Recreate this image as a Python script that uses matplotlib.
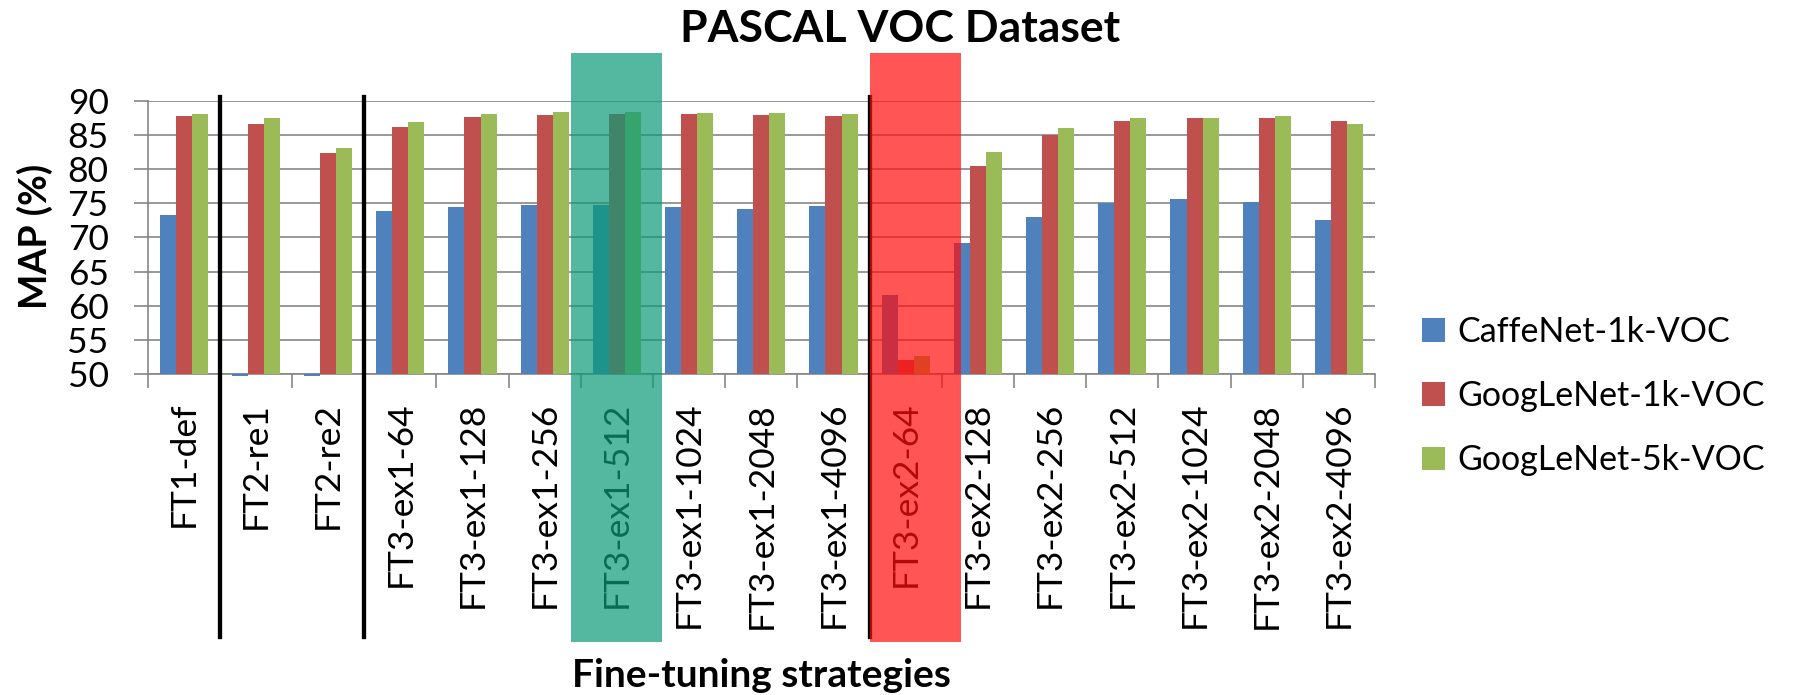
import matplotlib
matplotlib.use("Agg")
import matplotlib.pyplot as plt
import matplotlib.transforms as mtransforms
from matplotlib.patches import Rectangle, Patch
import numpy as np

plt.rcParams['font.family'] = ['Lato', 'DejaVu Sans']

# Chart data
categories = ['FT1-def', 'FT2-re1', 'FT2-re2', 'FT3-ex1-64', 'FT3-ex1-128',
              'FT3-ex1-256', 'FT3-ex1-512', 'FT3-ex1-1024', 'FT3-ex1-2048',
              'FT3-ex1-4096', 'FT3-ex2-64', 'FT3-ex2-128', 'FT3-ex2-256',
              'FT3-ex2-512', 'FT3-ex2-1024', 'FT3-ex2-2048', 'FT3-ex2-4096']
caffenet_1k = [73.3, 49.7, 49.7, 73.9, 74.5, 74.8, 74.8, 74.4, 74.2, 74.6,
               61.5, 69.2, 73.0, 75.0, 75.6, 75.2, 72.6]
googlenet_1k = [87.7, 86.6, 82.3, 86.1, 87.6, 87.95, 88.1, 88.0, 87.95, 87.8,
                52.05, 80.4, 85.0, 87.0, 87.4, 87.5, 87.0]
googlenet_5k = [88.0, 87.4, 83.1, 86.9, 88.1, 88.3, 88.3, 88.2, 88.2, 88.1,
                52.7, 82.5, 86.0, 87.4, 87.5, 87.8, 86.6]
series_names = ['CaffeNet-1k-VOC', 'GoogLeNet-1k-VOC', 'GoogLeNet-5k-VOC']
y_ticks = [50, 55, 60, 65, 70, 75, 80, 85, 90]
separators = [0.5, 2.5, 9.5]

colors = ['#4F81BD', '#C0504D', '#9BBB59']
grid_gray = '#868686'
base = 50

fig = plt.figure(figsize=(18.08, 6.95), dpi=100)
ax = fig.add_axes([0.08164, 0.46187, 0.67888, 0.39324])

x = np.arange(len(categories))
w = 0.222
for i, (vals, c) in enumerate(zip([caffenet_1k, googlenet_1k, googlenet_5k], colors)):
    heights = np.array(vals) - base
    ax.bar(x + (i - 1) * w, heights, width=w, bottom=base, color=c,
           linewidth=0, zorder=3, clip_on=False)

ax.set_xlim(-0.5, len(categories) - 0.5)
ax.set_ylim(50, 90)
ax.set_yticks(y_ticks)
ax.set_axisbelow(True)
ax.yaxis.grid(True, color=grid_gray, linewidth=1.2)
ax.tick_params(axis='y', length=10, width=1.2, color=grid_gray, pad=18,
               labelsize=25.5)

ax.set_xticks(x)
ax.set_xticklabels(categories, rotation=90, fontsize=25.5, va='top', ha='center')
ax.tick_params(axis='x', which='major', length=0, pad=20)
ax.set_xticks(np.arange(len(categories) + 1) - 0.5, minor=True)
ax.tick_params(axis='x', which='minor', length=10, width=1.2, color=grid_gray)

for side in ['top', 'right']:
    ax.spines[side].set_visible(False)
for side in ['left', 'bottom']:
    ax.spines[side].set_color(grid_gray)
    ax.spines[side].set_linewidth(1.2)

# separators and highlight boxes (x in data, y in axes fraction)
trans = mtransforms.blended_transform_factory(ax.transData, ax.transAxes)
for sx in separators:
    ax.plot([sx, sx], [-0.962, 1.0124], color='black', lw=3.1,
            transform=trans, clip_on=False, zorder=4)

ax.add_patch(Rectangle((5.364, -0.981), 1.261, 2.1555, transform=trans,
                       facecolor='#0A9B77', alpha=0.7, linewidth=0,
                       clip_on=False, zorder=5))
ax.add_patch(Rectangle((9.505, -0.981), 1.261, 2.1555, transform=trans,
                       facecolor='#FF0D0D', alpha=0.7, linewidth=0,
                       clip_on=False, zorder=5))

handles = [Patch(facecolor=c, edgecolor='none') for c in colors]
fig.legend(handles, series_names, loc='center left',
           bbox_to_anchor=(0.7863, 0.4302), frameon=False, fontsize=24.5,
           handlelength=0.7, handleheight=0.7, handletextpad=0.35,
           labelspacing=0.95, borderpad=0, borderaxespad=0)

fig.text(0.498, 0.940, 'PASCAL VOC Dataset', ha='center', va='baseline',
         fontsize=32, fontweight='bold')
fig.text(0.421, 0.0115, 'Fine-tuning strategies', ha='center', va='baseline',
         fontsize=28, fontweight='bold')
fig.text(0.0191, 0.660, 'MAP (%)', ha='center', va='center', rotation=90,
         fontsize=27, fontweight='bold')

fig.savefig('out.png', dpi=100)
